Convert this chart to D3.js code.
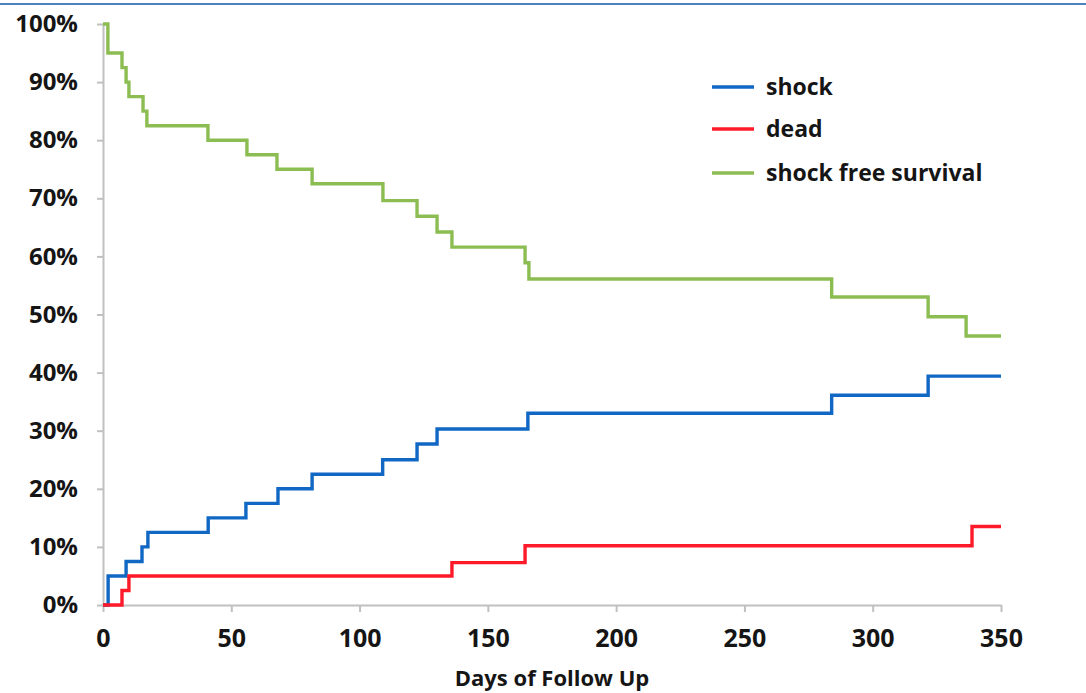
<!DOCTYPE html>
<html>
<head>
<meta charset="utf-8">
<script src="https://cdn.jsdelivr.net/npm/d3@7"></script>
<style>
  body { margin: 0; background: #fff; }
  svg text { font-family: "Open Sans", "Liberation Sans", sans-serif; font-weight: bold; fill: #151515; }
</style>
</head>
<body>
<div id="plot"></div>
<script>
// series: [day, percent]
const shockData = [[0,0],[2,5],[9,7.5],[15.2,10],[17.5,12.5],[41,15],[55.7,17.5],[68.2,20],[81.5,22.5],
  [109,25],[122.4,27.7],[130.2,30.3],[165.6,33],[284,36.1],[321.6,39.4],[350,39.4]];
const deadData = [[0,0],[7.4,2.5],[10.1,5],[136,7.3],[164.5,10.2],[338.7,13.5],[350,13.5]];
const survivalData = [[0,100],[1.9,95],[7.4,92.5],[9,90],[10.1,87.5],[15.6,85],[17.1,82.5],[40.9,80],
  [56.1,77.5],[67.8,75],[81.5,72.5],[109.1,69.6],[122.4,66.9],[130.2,64.2],[136,61.6],[164.5,58.9],
  [166,56.1],[284,53],[321.6,49.6],[336.4,46.3],[350,46.3]];

const seriesNames = ["shock", "dead", "shock free survival"];
const seriesColors = ["#1167c4", "#ff1a2a", "#8cbd52"];
const xTicks = [0, 50, 100, 150, 200, 250, 300, 350];
const yTicks = [0, 10, 20, 30, 40, 50, 60, 70, 80, 90, 100];

const W = 1086, H = 693;
const svg = d3.select("#plot").append("svg")
  .attr("width", W).attr("height", H);

// thin blue frame line at the top
svg.append("rect").attr("x", 0).attr("y", 3).attr("width", W).attr("height", 2).attr("fill", "#4f81bd");

const x = d3.scaleLinear().domain([0, 350]).range([103, 1001]);
const y = d3.scaleLinear().domain([0, 100]).range([605, 24]);

// axes
const xAxis = svg.append("g").attr("transform", "translate(0,605)")
  .call(d3.axisBottom(x).tickValues(xTicks).tickSize(7).tickPadding(17).tickSizeOuter(0));
const yAxis = svg.append("g").attr("transform", "translate(103,0)")
  .call(d3.axisLeft(y).tickValues(yTicks).tickSize(6).tickPadding(19).tickSizeOuter(0)
    .tickFormat(d => d + "%"));

[xAxis, yAxis].forEach(a => {
  a.select(".domain").attr("stroke", "#c0c0c0").attr("stroke-width", 2);
  a.selectAll(".tick line").attr("stroke", "#c0c0c0").attr("stroke-width", 2);
  a.selectAll(".tick text").attr("fill", "#151515");
});
xAxis.selectAll(".tick text").style("font-size", "25px");
yAxis.selectAll(".tick text").style("font-size", "24px");

svg.append("text")
  .attr("x", 552).attr("y", 686)
  .attr("text-anchor", "middle")
  .style("font-size", "22px")
  .text("Days of Follow Up");

// step lines
const line = d3.line()
  .x(d => x(d[0])).y(d => y(d[1]))
  .curve(d3.curveStepAfter);

[shockData, deadData, survivalData].forEach((data, i) => {
  svg.append("path")
    .datum(data)
    .attr("fill", "none")
    .attr("stroke", seriesColors[i])
    .attr("stroke-width", 3.4)
    .attr("d", line);
});

// legend
const legendY = [87, 129, 173];
const legend = svg.append("g");
seriesNames.forEach((name, i) => {
  legend.append("line")
    .attr("x1", 712).attr("x2", 754)
    .attr("y1", legendY[i]).attr("y2", legendY[i])
    .attr("stroke", seriesColors[i]).attr("stroke-width", 3.4);
  legend.append("text")
    .attr("x", 766).attr("y", legendY[i])
    .attr("dy", "0.33em")
    .style("font-size", "23px")
    .text(name);
});
</script>
</body>
</html>
